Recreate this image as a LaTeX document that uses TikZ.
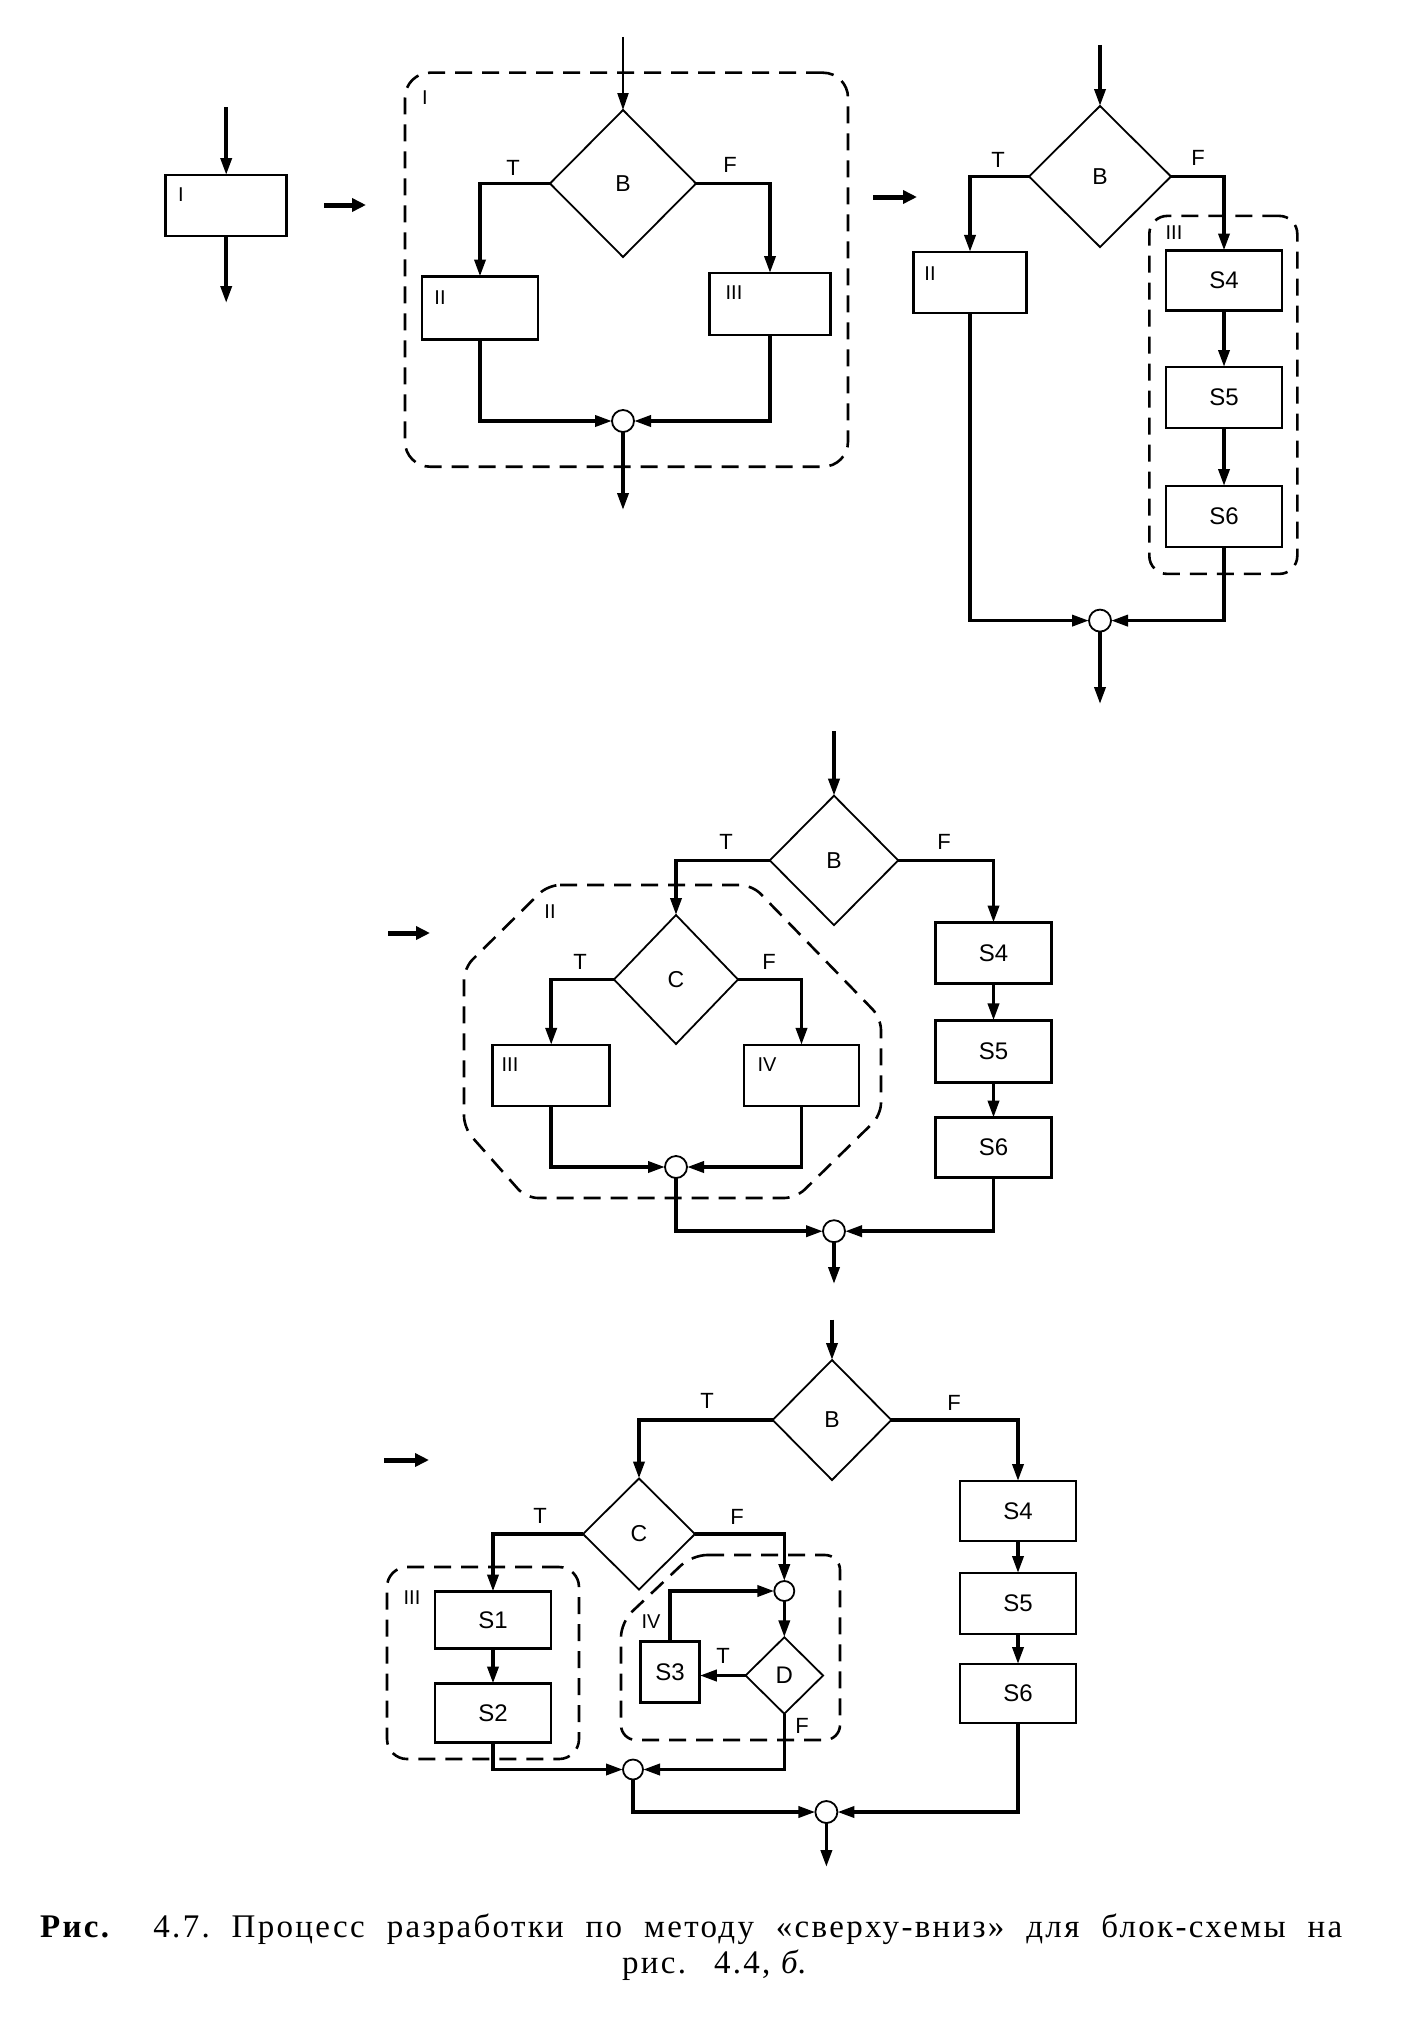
\documentclass[tikz,border=0pt]{standalone}
\usepackage{fontspec}
\setmainfont{Liberation Serif}
\setsansfont{Liberation Sans}
\newfontfamily\capfont[LetterSpace=7]{Liberation Serif}
\usetikzlibrary{shapes.geometric,arrows.meta}
\begin{document}
\begin{tikzpicture}[x=1pt,y=-1pt,
  box/.style={draw, line width=2.6pt, inner sep=0pt, outer sep=0pt, font=\sffamily\fontsize{24}{27}\selectfont},
  dia/.style={draw, diamond, line width=1.8pt, inner sep=0pt, outer sep=0pt, font=\sffamily\fontsize{23}{26}\selectfont},
  jn/.style={draw, circle, line width=1.8pt, inner sep=0pt, outer sep=0pt, minimum size=22pt},
  grp/.style={draw, line width=2.6pt, dash pattern=on 17pt off 10pt},
  conn/.style={line width=3.6pt, -{Triangle[length=17pt,width=11pt]}},
  tr/.style={line width=5pt, -{Triangle[length=14pt,width=13pt]}},
  tf/.style={font=\sffamily\fontsize{22}{25}\selectfont, inner sep=0pt},
  rn/.style={font=\sffamily\fontsize{20}{22}\selectfont, inner sep=0pt}
]
\fill[white] (0,0) rectangle (1408,2018);
\useasboundingbox (0,0) rectangle (1408,2018);

% ---------------- Panel 1 ----------------
\node[box, minimum width=121pt, minimum height=61pt] (I1) at (226.2,205.5) {};
\node[rn] (lI1) at (181,195) {I};
\coordinate (in1) at (226.2,107);
\coordinate (out1) at (226.2,303);
\draw[conn] (in1) -- (I1.north);
\draw[conn] (I1.south) -- (out1);
\coordinate (t1a) at (324,205);
\coordinate (t1b) at (366,205);
\draw[tr] (t1a) -- (t1b);

% ---------------- Panel 2 ----------------
\node[grp, rounded corners=25pt, minimum width=443pt, minimum height=394pt] (g2) at (626.5,269.7) {};
\node[rn] (lg2) at (425,98) {I};
\node[dia, minimum width=146pt, minimum height=147pt] (B2) at (623,183.5) {B};
\node[box, minimum width=116pt, minimum height=63pt] (II2) at (480,308) {};
\node[box, minimum width=121pt, minimum height=62pt] (III2) at (770,304) {};
\node[rn] (lII2) at (440,298) {II};
\node[rn] (lIII2) at (734,293) {III};
\node[jn] (J2) at (623,421) {};
\node[tf] (T2) at (513,168) {T};
\node[tf] (F2) at (730,165) {F};
\coordinate (in2) at (623,37);
\coordinate (out2) at (623,510);
\draw[conn, line width=2.2pt] (in2) -- (B2.north);
\draw[conn] (B2.west) -| (II2.north);
\draw[conn] (B2.east) -| (III2.north);
\draw[conn] (II2.south) |- (J2.west);
\draw[conn] (III2.south) |- (J2.east);
\draw[conn] (J2.south) -- (out2);
\coordinate (t2a) at (873,197);
\coordinate (t2b) at (917,197);
\draw[tr] (t2a) -- (t2b);

% ---------------- Panel 3 ----------------
\node[dia, minimum width=142pt, minimum height=141pt] (B3) at (1100,176.5) {B};
\node[tf] (T3) at (998,160) {T};
\node[tf] (F3) at (1198,158) {F};
\node[box, minimum width=113pt, minimum height=61pt] (II3) at (970,282.4) {};
\node[rn] (lII3) at (930,274) {II};
\node[grp, rounded corners=18pt, minimum width=148pt, minimum height=358pt] (g3) at (1223.3,394.9) {};
\node[rn] (lg3) at (1174,233) {III};
\node[box, minimum width=116pt, minimum height=60pt] (S43) at (1224,280.5) {S4};
\node[box, minimum width=116pt, minimum height=61pt] (S53) at (1224,397.5) {S5};
\node[box, minimum width=116pt, minimum height=61pt] (S63) at (1224,516.5) {S6};
\node[jn] (J3) at (1100,620.6) {};
\coordinate (in3) at (1100,45);
\coordinate (out3) at (1100,704);
\draw[conn] (in3) -- (B3.north);
\draw[conn] (B3.west) -| (II3.north);
\draw[conn] (B3.east) -| (S43.north);
\draw[conn] (S43.south) -- (S53.north);
\draw[conn] (S53.south) -- (S63.north);
\draw[conn] (II3.south) |- (J3.west);
\draw[conn] (S63.south) |- (J3.east);
\draw[conn] (J3.south) -- (out3);

% ---------------- Panel 4 ----------------
\coordinate (t4a) at (388,933);
\coordinate (t4b) at (430,933);
\draw[tr] (t4a) -- (t4b);
\draw[grp, rounded corners=12pt] (548,885) -- (752,885) -- (881,1018) -- (881,1115) -- (796,1198) -- (526,1198) -- (464,1128) -- (464,968) -- cycle;
\node[rn] (lg4) at (550,912) {II};
\node[dia, minimum width=128.5pt, minimum height=129.4pt] (B4) at (834,860.4) {B};
\node[tf] (T4) at (726,842) {T};
\node[tf] (F4) at (944,842) {F};
\node[dia, minimum width=124pt, minimum height=129pt] (C4) at (676,979.5) {C};
\node[tf] (CT4) at (580,961.5) {T};
\node[tf] (CF4) at (769,961.5) {F};
\node[box, minimum width=117pt, minimum height=61pt] (III4) at (551.2,1075.4) {};
\node[box, minimum width=115pt, minimum height=61pt] (IV4) at (801.5,1075.4) {};
\node[rn] (lIII4) at (510,1065) {III};
\node[rn] (lIV4) at (767,1065) {IV};
\node[jn] (J4a) at (676,1167) {};
\node[jn] (J4b) at (834,1231.2) {};
\node[box, minimum width=116pt, minimum height=61pt] (S44) at (993.5,953) {S4};
\node[box, minimum width=116pt, minimum height=62pt] (S54) at (993.5,1051.4) {S5};
\node[box, minimum width=116pt, minimum height=60pt] (S64) at (993.5,1147.6) {S6};
\coordinate (in4) at (834,731.4);
\coordinate (out4) at (834,1284);
\draw[conn] (in4) -- (B4.north);
\draw[conn] (B4.west) -| (C4.north);
\draw[conn] (B4.east) -| (S44.north);
\draw[conn] (C4.west) -| (III4.north);
\draw[conn] (C4.east) -| (IV4.north);
\draw[conn] (III4.south) |- (J4a.west);
\draw[conn] (IV4.south) |- (J4a.east);
\draw[conn] (J4a.south) |- (J4b.west);
\draw[conn] (S44.south) -- (S54.north);
\draw[conn] (S54.south) -- (S64.north);
\draw[conn] (S64.south) |- (J4b.east);
\draw[conn] (J4b.south) -- (out4);

% ---------------- Panel 5 ----------------
\coordinate (t5a) at (384,1460);
\coordinate (t5b) at (429,1460);
\draw[tr] (t5a) -- (t5b);
\node[dia, minimum width=118.6pt, minimum height=120pt] (B5) at (832,1420) {B};
\node[tf] (T5) at (707,1401) {T};
\node[tf] (F5) at (954,1403) {F};
\node[dia, minimum width=112pt, minimum height=111pt] (C5) at (639,1534) {C};
\node[tf] (CT5) at (540,1516) {T};
\node[tf] (CF5) at (737,1517) {F};
\node[grp, rounded corners=20pt, minimum width=192pt, minimum height=192pt] (g5a) at (483,1663) {};
\node[rn] (lg5a) at (412,1598) {III};
\node[box, minimum width=116pt, minimum height=57pt] (S15) at (493,1620) {S1};
\node[box, minimum width=116pt, minimum height=59pt] (S25) at (493,1713) {S2};
\draw[grp, rounded corners=15pt] (692,1555) -- (840,1555) -- (840,1740) -- (621,1740) -- (621,1622) -- cycle;
\node[rn] (lg5b) at (651,1622) {IV};
\node[jn, minimum size=20pt] (K5) at (784.3,1591) {};
\node[dia, minimum width=77.5pt, minimum height=76.5pt, font=\sffamily\fontsize{24}{27}\selectfont] (D5) at (784.3,1675.5) {D};
\node[box, minimum width=59.5pt, minimum height=60.5pt] (S35) at (670,1672) {S3};
\node[tf] (DT5) at (723,1655.5) {T};
\node[tf] (DF5) at (802,1726) {F};
\node[jn, minimum size=20pt] (J5a) at (633,1769.5) {};
\node[jn] (J5b) at (826.4,1812) {};
\node[box, minimum width=116pt, minimum height=60pt] (S45) at (1018,1511) {S4};
\node[box, minimum width=116pt, minimum height=61pt] (S55) at (1018,1603.5) {S5};
\node[box, minimum width=116pt, minimum height=59pt] (S65) at (1018,1693.5) {S6};
\coordinate (in5) at (832,1319.6);
\coordinate (out5) at (826.4,1867);
\draw[conn] (in5) -- (B5.north);
\draw[conn] (B5.west) -| (C5.north);
\draw[conn] (B5.east) -| (S45.north);
\draw[conn] (C5.west) -| (S15.north);
\draw[conn] (S15.south) -- (S25.north);
\draw[conn] (C5.east) -| (K5.north);
\draw[conn] (K5.south) -- (D5.north);
\draw[conn] (D5.west) -- (D5.west -| S35.east);
\draw[conn] (S35.north) |- (K5.west);
\draw[conn] (D5.south) |- (J5a.east);
\draw[conn] (S25.south) |- (J5a.west);
\draw[conn] (J5a.south) |- (J5b.west);
\draw[conn] (S45.south) -- (S55.north);
\draw[conn] (S55.south) -- (S65.north);
\draw[conn] (S65.south) |- (J5b.east);
\draw[conn] (J5b.south) -- (out5);

% ---------------- Caption ----------------
\node[anchor=base west, inner sep=0pt, font=\capfont\fontsize{33}{36}\selectfont] (cap1) at (40,1937)
  {\frenchspacing\makebox[1302pt][s]{\textbf{Рис.}\hspace{20pt} 4.7. Процесс разработки по методу «сверху-вниз» для блок-схемы на}};
\node[anchor=base, inner sep=0pt, font=\capfont\fontsize{33}{36}\selectfont] (cap2) at (714,1973)
  {\frenchspacing рис.\hspace{28pt}4.4, \textit{б}.};
\end{tikzpicture}
\end{document}
